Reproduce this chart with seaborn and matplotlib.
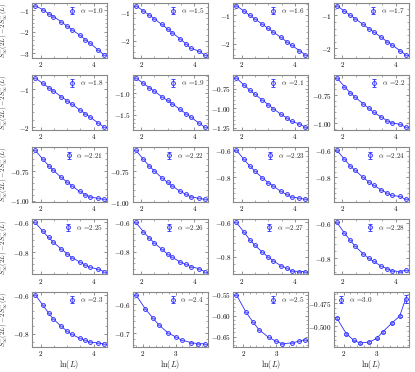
#%% Modules Import
import numpy as np
import pandas as pd

import seaborn as sns
import matplotlib
matplotlib.use('Agg')
import matplotlib.pyplot as plt
from matplotlib.ticker import MultipleLocator, AutoMinorLocator

#%% - Data
""" System sizes L used in each panel (x axis is ln L) """
L_long = [6, 8, 10, 12, 16, 20, 24, 32, 40, 48, 64, 80]
L_short = [6, 8, 10, 12, 16, 20, 24, 32, 40, 48]

alphas = ['1.0', '1.5', '1.6', '1.7', '1.8', '1.9', '2.1', '2.2',
          '2.21', '2.22', '2.23', '2.24', '2.25', '2.26', '2.27', '2.28',
          '2.3', '2.4', '2.5', '3.0']

y_a10 = [-0.78, -0.97, -1.16, -1.29, -1.53, -1.74, -1.90, -2.15, -2.37, -2.54, -2.84, -3.07]
y_a15 = [-0.74, -0.93, -1.08, -1.21, -1.42, -1.58, -1.72, -1.94, -2.12, -2.28, -2.37, -2.51]
y_a16 = [-0.67, -0.86, -1.01, -1.13, -1.32, -1.47, -1.59, -1.78, -1.93, -2.05, -2.24, -2.39]
y_a17 = [-0.70, -0.87, -1.00, -1.10, -1.27, -1.40, -1.50, -1.67, -1.80, -1.90, -2.07, -2.20]
y_a18 = [-0.69, -0.84, -0.95, -1.04, -1.19, -1.30, -1.39, -1.54, -1.65, -1.74, -1.89, -2.00]
y_a19 = [-0.64, -0.77, -0.87, -0.95, -1.08, -1.17, -1.25, -1.38, -1.48, -1.56, -1.69, -1.79]
y_a21 = [-0.612, -0.703, -0.770, -0.821, -0.896, -0.955, -1.006, -1.077, -1.124, -1.171, -1.200, -1.242]
y_a22 = [-0.597, -0.675, -0.731, -0.769, -0.825, -0.867, -0.903, -0.944, -0.978, -0.994, -1.010, -1.033]
y_a221 = [-0.574, -0.650, -0.705, -0.745, -0.803, -0.842, -0.874, -0.921, -0.947, -0.968, -0.979, -0.987]
y_a222 = [-0.577, -0.652, -0.706, -0.745, -0.802, -0.840, -0.871, -0.912, -0.938, -0.956, -0.969, -0.977]
y_a223 = [-0.595, -0.665, -0.716, -0.752, -0.805, -0.841, -0.865, -0.906, -0.930, -0.949, -0.957, -0.966]
y_a224 = [-0.595, -0.665, -0.716, -0.749, -0.800, -0.836, -0.860, -0.896, -0.920, -0.937, -0.945, -0.966]
y_a225 = [-0.600, -0.659, -0.702, -0.735, -0.778, -0.811, -0.837, -0.865, -0.887, -0.902, -0.915, -0.930]
y_a226 = [-0.600, -0.663, -0.707, -0.739, -0.783, -0.817, -0.839, -0.870, -0.887, -0.902, -0.915, -0.935]
y_a227 = [-0.600, -0.656, -0.701, -0.731, -0.772, -0.800, -0.822, -0.850, -0.865, -0.880, -0.884, -0.884]
y_a228 = [-0.595, -0.657, -0.698, -0.732, -0.773, -0.800, -0.818, -0.845, -0.859, -0.871, -0.875, -0.868]
y_a23 = [-0.597, -0.651, -0.693, -0.724, -0.761, -0.786, -0.803, -0.822, -0.834, -0.842, -0.847, -0.851]
y_a24 = [-0.567, -0.616, -0.647, -0.671, -0.700, -0.713, -0.724, -0.733, -0.737, -0.737]
y_a25 = [-0.550, -0.591, -0.616, -0.634, -0.652, -0.661, -0.667, -0.665, -0.661, -0.657]
y_a30 = [-0.491, -0.508, -0.515, -0.518, -0.517, -0.513, -0.506, -0.496, -0.489, -0.470]
err_a30 = [0.0008, 0.0008, 0.0008, 0.0008, 0.0008, 0.0008, 0.0009, 0.0010, 0.0012, 0.0045]

values = [y_a10, y_a15, y_a16, y_a17, y_a18, y_a19, y_a21, y_a22,
          y_a221, y_a222, y_a223, y_a224, y_a225, y_a226, y_a227, y_a228,
          y_a23, y_a24, y_a25, y_a30]

# Building one long table #
rows = []
for a, vals in zip(alphas, values):
    Ls = L_long if len(vals) == len(L_long) else L_short
    errs = err_a30 if a == '3.0' else [0.0] * len(vals)
    for L, v, e in zip(Ls, vals, errs):
        rows.append({'alpha': a, 'lnL': np.log(L), 'dS': v, 'err': e})
df = pd.DataFrame(rows)

#%% - Plotting Space
sns.set_theme(style='ticks')
plt.rcParams['font.family'] = 'serif'
plt.rcParams['font.serif'] = ['cmr10', 'DejaVu Serif']
plt.rcParams['mathtext.fontset'] = 'cm'
plt.rcParams['axes.formatter.use_mathtext'] = True
plt.rcParams['axes.unicode_minus'] = True

ytick_step = [1, 1, 1, 1, 1, 0.5, 0.25, 0.25, 0.25, 0.25, 0.2, 0.2,
              0.2, 0.2, 0.2, 0.2, 0.2, 0.1, 0.05, 0.025]
blue = '#2a2aff'

fig, axes = plt.subplots(5, 4, figsize=(4.15, 3.72), dpi=100)
fig.subplots_adjust(left=0.077, right=0.985, top=0.993, bottom=0.068,
                    wspace=0.34, hspace=0.31)

for i, a in enumerate(alphas):
    ax = axes.flat[i]
    d = df[df['alpha'] == a]
    sns.lineplot(data=d, x='lnL', y='dS', ax=ax, color=blue, lw=0.6)
    ax.errorbar(d['lnL'], d['dS'], yerr=d['err'], fmt='o', ms=2.8,
                mfc=(0.7, 0.7, 1.0, 0.5), mec=blue, mew=0.6, ecolor=blue,
                elinewidth=0.6, capsize=1.3, capthick=0.6,
                label=r'$\alpha$ =' + a)
    ax.margins(x=0.045, y=0.06)
    ax.xaxis.set_major_locator(MultipleLocator(1 if i >= 17 else 2))
    ax.yaxis.set_major_locator(MultipleLocator(ytick_step[i]))
    ax.xaxis.set_minor_locator(AutoMinorLocator(5 if i >= 17 else 4))
    ax.yaxis.set_minor_locator(AutoMinorLocator(5))
    ax.tick_params(which='both', direction='in', top=True, right=True,
                   colors='#666666', labelcolor='black', labelsize=5.2, pad=1.5)
    ax.tick_params(which='major', length=2.2, width=0.5)
    ax.tick_params(which='minor', length=1.2, width=0.4)
    for s in ax.spines.values():
        s.set_color('#888888')
        s.set_linewidth(0.8)
    ax.set_xlabel(r'$\ln(L)$' if i >= 16 else '', fontsize=6, labelpad=0)
    if i % 4 == 0:
        ax.set_ylabel(r'$S^{\alpha}_{\infty}(2L) - 2S^{\alpha}_{\infty}(L)$', fontsize=5)
        ax.yaxis.set_label_coords(-0.29, 0.5)
    else:
        ax.set_ylabel('')
    ax.legend(loc='upper left' if a == '3.0' else 'upper right', frameon=False,
              fontsize=5.2, handlelength=1.0, handletextpad=0.6,
              borderaxespad=0.3, borderpad=0.2)

fig.savefig('out.png', dpi=100)
